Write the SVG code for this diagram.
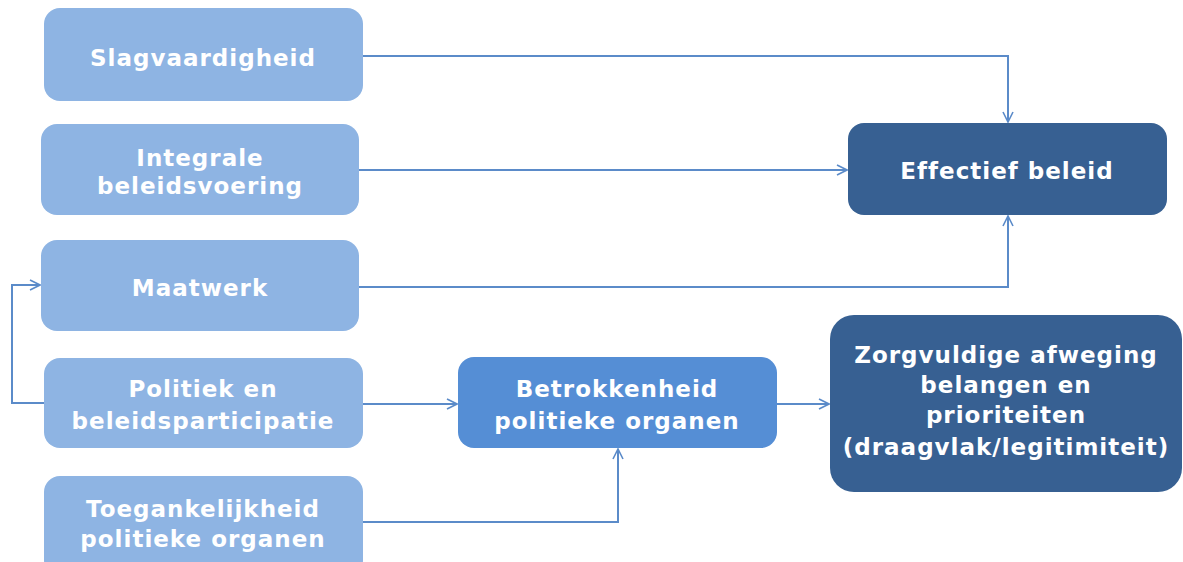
<svg xmlns="http://www.w3.org/2000/svg" width="1183" height="562" viewBox="0 0 1183 562">
<defs>
<style>
.light{fill:#8EB4E3}
.mid{fill:#558ED5}
.dark{fill:#376092}
text{font-family:"DejaVu Sans",sans-serif;font-weight:bold;font-size:23px;letter-spacing:1px;fill:#ffffff;text-anchor:middle}
.conn{fill:none;stroke:#5B8BC9;stroke-width:2}
</style>
<marker id="arr" viewBox="0 0 12 12" refX="11" refY="6" markerWidth="12" markerHeight="12" markerUnits="userSpaceOnUse" orient="auto">
<path d="M1,1 L11,6 L1,11" fill="none" stroke="#5B8BC9" stroke-width="1.6"/>
</marker>
</defs>
<rect width="1183" height="562" fill="#ffffff"/>
<g id="connectors">
<path class="conn" d="M363,56 H1008 V122" marker-end="url(#arr)"/>
<path class="conn" d="M359,170 H847" marker-end="url(#arr)"/>
<path class="conn" d="M359,287 H1008 V216" marker-end="url(#arr)"/>
<path class="conn" d="M44,403 H12 V285 H40" marker-end="url(#arr)"/>
<path class="conn" d="M363,404 H457" marker-end="url(#arr)"/>
<path class="conn" d="M363,522 H618 V449" marker-end="url(#arr)"/>
<path class="conn" d="M777,404 H829" marker-end="url(#arr)"/>
</g>
<g id="slagvaardigheid">
<rect class="light" x="44" y="8" width="319" height="93" rx="16"/>
<text x="203" y="66">Slagvaardigheid</text>
</g>
<g id="integrale">
<rect class="light" x="41" y="124" width="318" height="91" rx="16"/>
<text x="200" y="166">Integrale</text>
<text x="200" y="194">beleidsvoering</text>
</g>
<g id="maatwerk">
<rect class="light" x="41" y="240" width="318" height="91" rx="16"/>
<text x="200" y="296">Maatwerk</text>
</g>
<g id="politiek">
<rect class="light" x="44" y="358" width="319" height="90" rx="16"/>
<text x="203" y="397">Politiek en</text>
<text x="203" y="429">beleidsparticipatie</text>
</g>
<g id="toegankelijkheid">
<rect class="light" x="44" y="476" width="319" height="100" rx="16"/>
<text x="203" y="517">Toegankelijkheid</text>
<text x="203" y="547">politieke organen</text>
</g>
<g id="betrokkenheid">
<rect class="mid" x="458" y="357" width="319" height="91" rx="16"/>
<text x="617" y="397">Betrokkenheid</text>
<text x="617" y="429">politieke organen</text>
</g>
<g id="effectief">
<rect class="dark" x="848" y="123" width="319" height="92" rx="16"/>
<text x="1007" y="179">Effectief beleid</text>
</g>
<g id="zorgvuldige">
<rect class="dark" x="830" y="315" width="352" height="177" rx="24"/>
<text x="1006" y="363">Zorgvuldige afweging</text>
<text x="1006" y="393">belangen en</text>
<text x="1006" y="423">prioriteiten</text>
<text x="1006" y="455">(draagvlak/legitimiteit)</text>
</g>
</svg>
